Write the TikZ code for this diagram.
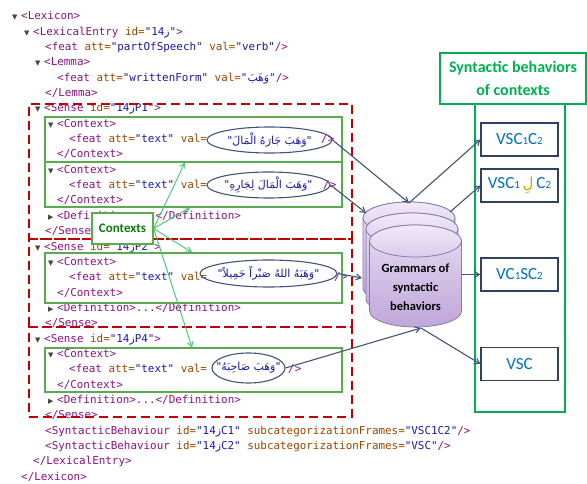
\documentclass[tikz,border=0pt]{standalone}
\usepackage{fontspec}
\setmonofont{DejaVu Sans Mono}
\newfontfamily\carl{Carlito}
\newfontfamily\arabf[Script=Arabic]{DejaVu Sans}
\newfontfamily\symf{DejaVu Sans}
\TeXXeTstate=1
\usetikzlibrary{shapes.geometric,arrows.meta,calc}
\definecolor{tagc}{RGB}{136,18,128}
\definecolor{attc}{RGB}{153,69,0}
\definecolor{valc}{RGB}{26,26,166}
\definecolor{tric}{RGB}{70,70,70}
\definecolor{sensered}{RGB}{192,0,0}
\definecolor{ctxgreen}{RGB}{90,170,80}
\definecolor{ctxtext}{RGB}{10,125,10}
\definecolor{arrgreen}{RGB}{70,195,110}
\definecolor{brightgreen}{RGB}{0,176,80}
\definecolor{navy}{RGB}{65,85,120}
\definecolor{boxedge}{RGB}{50,65,95}
\definecolor{vscblue}{RGB}{0,112,192}
\definecolor{lamc}{RGB}{175,180,0}
\definecolor{cyledge}{RGB}{140,120,170}
\definecolor{cyltopc}{RGB}{230,220,242}
\definecolor{cylbotc}{RGB}{192,166,218}
\definecolor{capa}{RGB}{240,234,248}
\definecolor{capb}{RGB}{218,204,236}
\newcommand\xt[1]{\textcolor{tagc}{#1}}
\newcommand\xa[1]{\textcolor{attc}{#1}}
\newcommand\xv[1]{\textcolor{valc}{#1}}
\newcommand\zn{{\arabf ز}}
\newcommand\trdown{\makebox[9pt][l]{\textcolor{tric}{\symf\fontsize{7}{7}\selectfont ▼}}}
\newcommand\trright{\makebox[9pt][l]{\textcolor{tric}{\symf\fontsize{7}{7}\selectfont ▶}}}
\newcommand\dg[1]{{\fontsize{11}{11}\selectfont #1}}
\tikzset{
  code/.style={anchor=base west, inner sep=0, font=\ttfamily\fontsize{10.9}{13}\selectfont},
  ell/.style={ellipse, draw=navy, line width=1.1, inner sep=0},
  artext/.style={inner sep=0, font=\arabf\fontsize{11}{12}\selectfont, text=valc},
  sensebox/.style={rectangle, draw=sensered, line width=2.4, dash pattern=on 9pt off 5pt, inner sep=0},
  ctxbox/.style={rectangle, draw=ctxgreen, line width=1.2, inner sep=0, minimum width=297},
  ctxlabel/.style={rectangle, draw=ctxgreen, fill=white, line width=1.2, minimum width=61, minimum height=31, inner sep=0, text=ctxtext, font=\carl\bfseries\fontsize{13}{13}\selectfont},
  garr/.style={draw=arrgreen, line width=0.9, -{Straight Barb[length=5pt,width=6pt]}},
  barr/.style={draw=navy, line width=1.1, -{Straight Barb[length=5pt,width=6pt]}},
  cylbody/.style={draw=cyledge, line width=0.8, top color=cyltopc, bottom color=cylbotc},
  cylcap/.style={draw=cyledge, line width=0.8, top color=capa, bottom color=capb},
  gcyl/.pic={
    \path[cylbody] (-46,0) -- (-46,70) .. controls (-46,78.8) and (-25.4,86) .. (0,86)
      .. controls (25.4,86) and (46,78.8) .. (46,70) -- (46,0)
      .. controls (46,-8.8) and (25.4,-16) .. (0,-16)
      .. controls (-25.4,-16) and (-46,-8.8) .. (-46,0) -- cycle;
    \path[cylcap] (0,0) ellipse [x radius=46, y radius=16];
  },
  grambox/.style={inner sep=0, align=center, font=\carl\bfseries\fontsize{12.5}{19}\selectfont},
  bigbox/.style={rectangle, draw=brightgreen, line width=2, inner sep=0},
  hdrtext/.style={bigbox, align=center, text=brightgreen, font=\carl\bfseries\fontsize{16}{23}\selectfont},
  vsc/.style={rectangle, draw=boxedge, line width=1.1, fill=white, minimum width=77, minimum height=33, inner sep=0, text=vscblue, font=\carl\fontsize{17}{17}\selectfont}
}
\begin{document}
\begin{tikzpicture}[x=1pt,y=-1pt]
\useasboundingbox (0,0) rectangle (587,484);
% ---- code lines
\node[code] (l0) at (12,19.8) {\trdown\xt{<Lexicon>}};
\node[code] (l1) at (24,35.15) {\trdown\xt{<LexicalEntry} \xa{id=}\xv{"14\zn"}\xt{>}};
\node[code] (l2) at (45,50.5) {\xt{<feat} \xa{att=}\xv{"partOfSpeech"} \xa{val=}\xv{"verb"}\xt{/>}};
\node[code] (l3) at (35,65.85) {\trdown\xt{<Lemma>}};
\node[code] (l4) at (57,81.2) {\xt{<feat} \xa{att=}\xv{"writtenForm"} \xa{val=}\xv{"{\arabf\beginR وَهَبَ\endR}"}\xt{/>}};
\node[code] (l5) at (45,96.55) {\xt{</Lemma>}};
\node[code] (l6) at (35,111.9) {\trdown\xt{<Sense} \xa{id=}\xv{"14\zn P1"}\xt{>}};
\node[code] (l7) at (48,127.25) {\trdown\xt{<Context>}};
\node[code] (l8) at (69,142.6) {\xt{<feat} \xa{att=}\xv{"text"} \xa{val=}};
\node[code] (l9) at (57,157.95) {\xt{</Context>}};
\node[code] (l10) at (48,173.3) {\trdown\xt{<Context>}};
\node[code] (l11) at (69,188.65) {\xt{<feat} \xa{att=}\xv{"text"} \xa{val=}};
\node[code] (l12) at (57,204.0) {\xt{</Context>}};
\node[code] (l13) at (48,219.35) {\trright\xt{<Definition>...</Definition>}};
\node[code] (l14) at (45,234.7) {\xt{</Sense>}};
\node[code] (l15) at (35,250.05) {\trdown\xt{<Sense} \xa{id=}\xv{"14\zn P2"}\xt{>}};
\node[code] (l16) at (48,265.4) {\trdown\xt{<Context>}};
\node[code] (l17) at (69,280.75) {\xt{<feat} \xa{att=}\xv{"text"} \xa{val=}};
\node[code] (l18) at (57,296.1) {\xt{</Context>}};
\node[code] (l19) at (48,311.45) {\trright\xt{<Definition>...</Definition>}};
\node[code] (l20) at (45,326.8) {\xt{</Sense>}};
\node[code] (l21) at (35,342.15) {\trdown\xt{<Sense} \xa{id=}\xv{"14\zn P4"}\xt{>}};
\node[code] (l22) at (48,357.5) {\trdown\xt{<Context>}};
\node[code] (l23) at (69,372.85) {\xt{<feat} \xa{att=}\xv{"text"} \xa{val=}};
\node[code] (l24) at (57,388.2) {\xt{</Context>}};
\node[code] (l25) at (48,403.55) {\trright\xt{<Definition>...</Definition>}};
\node[code] (l26) at (45,418.9) {\xt{</Sense>}};
\node[code] (l27) at (45,434.25) {\xt{<SyntacticBehaviour} \xa{id=}\xv{"14\zn C1"} \xa{subcategorizationFrames=}\xv{"VSC1C2"}\xt{/>}};
\node[code] (l28) at (45,449.6) {\xt{<SyntacticBehaviour} \xa{id=}\xv{"14\zn C2"} \xa{subcategorizationFrames=}\xv{"VSC"}\xt{/>}};
\node[code] (l29) at (33,464.95) {\xt{</LexicalEntry>}};
\node[code] (l30) at (21,480.3) {\xt{</Lexicon>}};
% ---- ellipses around the Arabic contexts
\node[ell, minimum width=125, minimum height=26] (e1) at (269.5,140) {};
\node[artext] (a1) at (e1.center) {"\beginR وَهَبَ جَارَهُ الْمَالَ\endR"};
\node[code] (c8) at (321,142.6) {\xt{/>}};
\node[ell, minimum width=123, minimum height=26] (e2) at (268.5,185) {};
\node[artext] (a2) at (e2.center) {"\beginR وَهَبَ الْمَالَ لِجَارِهِ\endR"};
\node[code] (c11) at (323,188.65) {\xt{/>}};
\node[ell, minimum width=137, minimum height=27] (e3) at (268.5,273.5) {};
\node[artext] (a3) at (e3.center) {"\beginR وَهَبَهُ اللهُ صَبْراً جَمِيلاً\endR"};
\node[code] (c17) at (334,280.75) {\xt{/>}};
\node[ell, minimum width=73, minimum height=30] (e4) at (248.5,368) {};
\node[artext] (a4) at (e4.center) {"\beginR وَهَبَ صَاحِبَهُ\endR"};
\node[code] (c23) at (288,372.85) {\xt{/>}};
% ---- context boxes
\node[ctxbox, minimum height=45] (ctx1) at (193.5,139.5) {};
\node[ctxbox, minimum height=45] (ctx2) at (193.5,184.5) {};
\node[ctxbox, minimum height=50] (ctx3) at (193.5,278) {};
\node[ctxbox, minimum height=44] (ctx4) at (193.5,370) {};
% ---- sense boxes
\node[sensebox, minimum width=323, minimum height=135] (sn1) at (190.5,171.5) {};
\node[sensebox, minimum width=323, minimum height=88] (sn2) at (190.5,283) {};
\node[sensebox, minimum width=323, minimum height=90] (sn3) at (190.5,372) {};
% ---- Contexts label
\node[ctxlabel] (ctxl) at (122.5,228.5) {Contexts};
\draw[garr] (ctxl.east) -- ($(ctx1.south west)!0.471!(ctx1.south east)$);
\draw[garr] (ctxl.east) -- ($(ctx2.south west)!0.488!(ctx2.south east)$);
\draw[garr] (ctxl.east) -- ($(ctx3.north west)!0.495!(ctx3.north east)$);
\draw[garr] (ctxl.east) -- ($(ctx4.north west)!0.495!(ctx4.north east)$);
% ---- cylinders
\pic (cylA) at (409,218) {gcyl};
\pic (cylB) at (412,229) {gcyl};
\pic (cylC) at (415.5,241) {gcyl};
\node[grambox] (gram) at (415.5,287) {Grammars of\\syntactic\\behaviors};
\coordinate (ctop) at (409,203);
\coordinate (cmidl) at (366,213);
\coordinate (cbackl) at (362,278);
\coordinate (cbot) at (421,328);
\coordinate (cmidr) at (450,212);
\coordinate (cfrontr) at (461.5,274.5);
% ---- right column
\node[bigbox, minimum width=90, minimum height=308] (col) at (520,258) {};
\node[hdrtext, minimum width=146, minimum height=51] (hdr) at (513,78.5) {Syntactic behaviors\\of contexts};
\node[vsc] (b1) at (519.5,139.5) {VSC\dg{1}C\dg{2}};
\node[vsc] (b2) at (519.5,185.5) {VSC\dg{1}\,\textcolor{lamc}{\arabf\fontsize{15}{15}\selectfont لِ}\,C\dg{2}};
\node[vsc] (b3) at (519.5,274.5) {VC\dg{1}SC\dg{2}};
\node[vsc] (b4) at (519.5,364) {VSC};
% ---- navy connectors
\draw[barr] (e1.east) -- (ctop);
\draw[barr] (e2.east) -- (cmidl);
\draw[barr] (e3.east) -- (cbackl);
\draw[barr] (e4.east) -- (cbot);
\draw[barr] (ctop) -- (b1.west);
\draw[barr] (cmidr) -- (b2.west);
\draw[barr] (cfrontr) -- (b3.west);
\draw[barr] (cbot) -- (b4.west);
\end{tikzpicture}
\end{document}
